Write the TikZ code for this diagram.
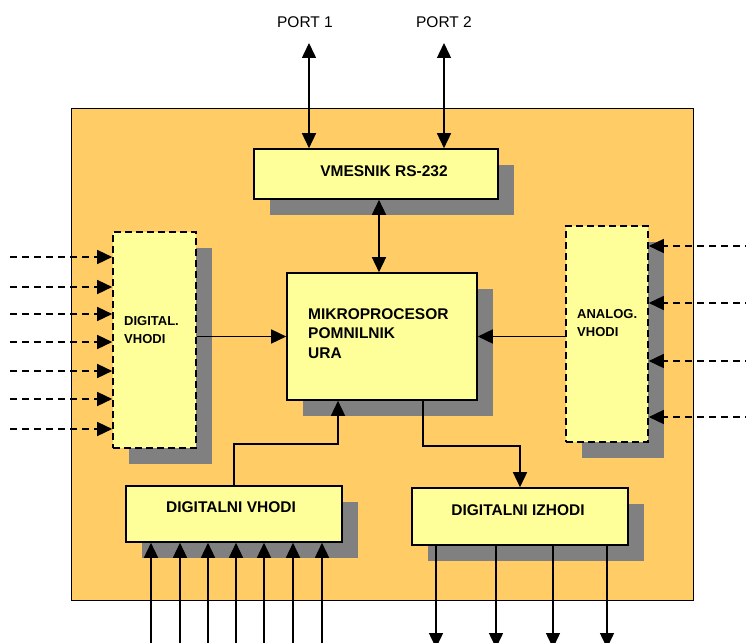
\documentclass[tikz,border=0pt]{standalone}
\usepackage{fontspec}
\setmainfont{Liberation Sans}
\usetikzlibrary{arrows.meta,shadows}
\definecolor{boardorange}{RGB}{255,204,102}
\definecolor{unityellow}{RGB}{255,255,153}
\definecolor{shadowgray}{RGB}{128,128,128}

\begin{document}
\begin{tikzpicture}[x=1pt, y=-1pt,
  every node/.style={inner sep=0pt},
  >={Triangle[length=15pt,width=14pt]},
  board/.style={draw, line width=1pt, fill=boardorange},
  unitbox/.style={draw, line width=1.6pt, fill=unityellow,
    drop shadow={shadow xshift=16pt, shadow yshift=-16pt, fill=shadowgray, opacity=1}},
  dashedbox/.style={unitbox, dash pattern=on 7pt off 4pt},
  link/.style={line width=1.5pt, ->},
  bothlink/.style={line width=1.5pt, <->},
  feed/.style={link, dash pattern=on 7pt off 5pt},
  unitlabel/.style={font=\fontsize{15.5}{19.5}\selectfont\bfseries, align=left},
  sidelabel/.style={font=\fontsize{13}{18}\selectfont\bfseries, align=left, anchor=base west},
  portlabel/.style={font=\fontsize{15.5}{19}\selectfont, anchor=base}]
\useasboundingbox (0,0) rectangle (746,642);

% Board
\node[board, minimum width=622pt, minimum height=492pt] (board) at (382,354) {};

% Units
\node[unitbox, minimum width=244pt, minimum height=50pt] (rs) at (376,174) {};
\node[unitbox, minimum width=190pt, minimum height=127pt] (mp) at (382,336.5) {};
\node[dashedbox, minimum width=83pt, minimum height=216pt] (dvh) at (154.5,340) {};
\node[dashedbox, minimum width=82pt, minimum height=216pt] (avh) at (607,334) {};
\node[unitbox, minimum width=216pt, minimum height=56pt] (dvi) at (234,514) {};
\node[unitbox, minimum width=216pt, minimum height=57pt] (dio) at (520,516.5) {};

% Labels (base of a multi-line label is its last line)
\node[unitlabel, anchor=base] (rstext) at (384,176) {VMESNIK RS-232};
\node[unitlabel, anchor=base west] (mptext) at (308,358) {MIKROPROCESOR\\POMNILNIK\\URA};
\node[sidelabel] (dvhtext) at (124,343) {DIGITAL.\\VHODI};
\node[sidelabel] (avhtext) at (577,336) {ANALOG.\\VHODI};
\node[unitlabel, anchor=base] (dvitext) at (231,512) {DIGITALNI VHODI};
\node[unitlabel, anchor=base] (diotext) at (518,515) {DIGITALNI IZHODI};

% Ports
\node[portlabel] (port1) at (305,28) {PORT 1};
\node[portlabel] (port2) at (444,28) {PORT 2};
\coordinate (p1) at (309,43);
\coordinate (p2) at (444,43);
\draw[bothlink] (p1) -- (p1 |- rs.north);
\draw[bothlink] (p2) -- (p2 |- rs.north);

% Bus to processor
\draw[bothlink] ([xshift=3pt]rs.south) -- ([xshift=-3pt]mp.north);
\draw[link] (dvh.east |- mp.west) -- (mp.west);
\draw[link] (avh.west |- mp.east) -- (mp.east);
\draw[link] (dvi.north) -- ++(0,-41) -| ([xshift=-44pt]mp.south);
\draw[link] ([xshift=41pt]mp.south) -- ++(0,45) -| (dio.north);

% Inputs and outputs
\foreach \y in {257,287,314,342,371,399,429}
  \draw[feed] (10,\y) -- (dvh.west |- 0,\y);
\foreach \y in {246,303,361,417}
  \draw[feed] (752,\y) -- (avh.east |- 0,\y);
\foreach \x in {151,180,208,236,264,293,322}
  \draw[link] (\x,650) -- (\x,0 |- dvi.south);
\foreach \x in {436,496,553,607}
  \draw[link] (\x,0 |- dio.south) -- (\x,648);
\end{tikzpicture}
\end{document}
